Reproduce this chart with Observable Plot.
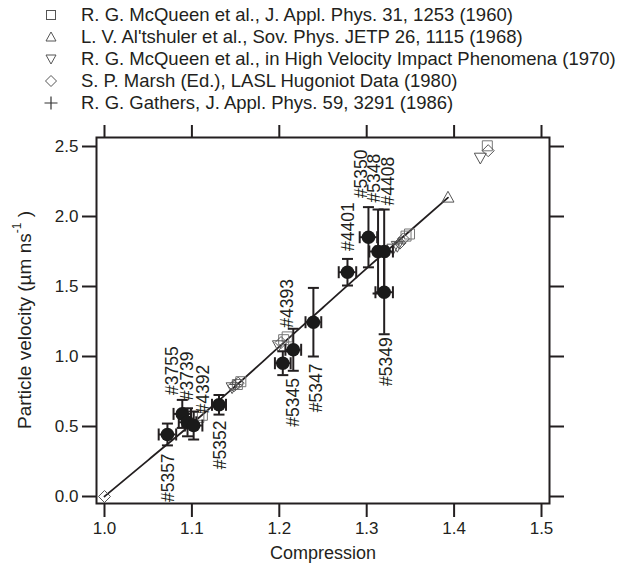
<!DOCTYPE html>
<html><head><meta charset="utf-8">
<script src="https://cdn.jsdelivr.net/npm/d3@7"></script>
<script src="https://cdn.jsdelivr.net/npm/@observablehq/plot@0.6"></script>
<style>
body{margin:0;background:#fff;font-family:"Liberation Sans",Arial,sans-serif;}
#wrap{width:621px;height:563px;position:relative;overflow:hidden;}
#legend{height:118px;position:relative;}
.row{position:absolute;left:0;height:22px;display:flex;align-items:center;font-size:18.5px;color:#231f20;white-space:nowrap;}
.row svg{margin-left:44px;margin-right:23px;flex:none;}
</style></head><body><div id="wrap"><div id="legend"></div><div id="chart"></div></div>
<script>
// ---- data ----
const shotIds = ["#5357","#3755","#3739","#4392","#5352","#5345","#4393","#5347","#4401","#5350","#5348","#4408","#5349"];
const shotCompression = [1.072,1.089,1.095,1.102,1.131,1.204,1.216,1.239,1.278,1.302,1.313,1.320,1.320];
const shotVelocity = [0.443,0.590,0.530,0.507,0.655,0.952,1.048,1.245,1.602,1.852,1.750,1.750,1.459];
const shotCompressionErr = [0.010,0.010,0.010,0.010,0.008,0.009,0.009,0.009,0.010,0.010,0.010,0.010,0.010];
const shotVelocityErr = [0.078,0.10,0.10,0.10,0.07,0.085,0.15,0.245,0.095,0.215,0.30,0.30,0.30];
const shotLabelSide = ["below","above","above","above","below","below","above","below","above","above","above","above","below"];

const fitCompression = [1.000,1.050,1.100,1.150,1.200,1.250,1.300,1.350,1.393];
const fitVelocity = [0.000,0.260,0.520,0.790,1.070,1.350,1.630,1.900,2.135];

const mcqueen1960C = [1.108,1.112,1.152,1.156,1.205,1.209,1.345,1.349,1.438];
const mcqueen1960U = [0.565,0.580,0.800,0.820,1.120,1.140,1.860,1.875,2.505];
const altshuler1968C = [1.393];
const altshuler1968U = [2.135];
const mcqueen1970C = [1.146,1.199,1.330,1.335,1.430];
const mcqueen1970U = [0.780,1.080,1.770,1.790,2.420];
const marsh1980C = [1.000,1.148,1.153,1.202,1.338,1.342,1.439];
const marsh1980U = [0.000,0.790,0.810,1.100,1.810,1.840,2.470];
const gathers1986C = [1.150,1.337];
const gathers1986U = [0.800,1.810];

const refNames = [
  "R. G. McQueen et al., J. Appl. Phys. 31, 1253 (1960)",
  "L. V. Al'tshuler et al., Sov. Phys. JETP 26, 1115 (1968)",
  "R. G. McQueen et al., in High Velocity Impact Phenomena (1970)",
  "S. P. Marsh (Ed.), LASL Hugoniot Data (1980)",
  "R. G. Gathers, J. Appl. Phys. 59, 3291 (1986)"
];
const xTicks = [1.0,1.1,1.2,1.3,1.4,1.5];
const yTicks = [0.0,0.5,1.0,1.5,2.0,2.5];

// ---- layout tweaks for the shot labels [dx, dy] ----
const labelNudge = {"#5357":[1,4],"#3755":[-10,-1],"#3739":[0,-4],"#4392":[10,6],"#5352":[1,2],
  "#5345":[11,-1],"#4393":[-6,3],"#5347":[3,3],"#4401":[1,-4],"#5350":[-7,-5],"#5348":[-4,-3],"#4408":[4,0],"#5349":[2,-1]};

// ---- symbols ----
const sym = fn => ({draw(ctx, size){ const r = Math.sqrt(size/Math.PI); fn(ctx, r); }});
const squareSym = sym((c,r)=>{c.moveTo(-r,-r);c.lineTo(r,-r);c.lineTo(r,r);c.lineTo(-r,r);c.closePath();});
const triUpSym = sym((c,r)=>{c.moveTo(0,-r*1.05);c.lineTo(r,r*0.75);c.lineTo(-r,r*0.75);c.closePath();});
const triDownSym = sym((c,r)=>{c.moveTo(0,r*1.05);c.lineTo(r,-r*0.75);c.lineTo(-r,-r*0.75);c.closePath();});
const diamondSym = sym((c,r)=>{c.moveTo(0,-r);c.lineTo(r,0);c.lineTo(0,r);c.lineTo(-r,0);c.closePath();});
const plusSym = sym((c,r)=>{c.moveTo(-r,0);c.lineTo(r,0);c.moveTo(0,-r);c.lineTo(0,r);});
const hcap = sym((c,r)=>{c.moveTo(-r,0);c.lineTo(r,0);});
const vcap = sym((c,r)=>{c.moveTo(0,-r);c.lineTo(0,r);});

const refs = [
  {c:mcqueen1960C,u:mcqueen1960U,symbol:squareSym,r:5,stroke:"#777"},
  {c:altshuler1968C,u:altshuler1968U,symbol:triUpSym,r:6,stroke:"#555"},
  {c:mcqueen1970C,u:mcqueen1970U,symbol:triDownSym,r:6,stroke:"#555"},
  {c:marsh1980C,u:marsh1980U,symbol:diamondSym,r:6,stroke:"#555"},
  {c:gathers1986C,u:gathers1986U,symbol:plusSym,r:6,stroke:"#555"}
];

// ---- legend ----
const legendShapes = [
  '<rect x="2.5" y="2.5" width="9" height="9" fill="none" stroke="#555" stroke-width="1"/>',
  '<path d="M7 2 L12 11 L2 11 Z" fill="none" stroke="#555" stroke-width="1"/>',
  '<path d="M7 12 L12 3 L2 3 Z" fill="none" stroke="#555" stroke-width="1"/>',
  '<path d="M7 1.5 L12.5 7 L7 12.5 L1.5 7 Z" fill="none" stroke="#555" stroke-width="1"/>',
  '<path d="M0.5 7 H13.5 M7 0.5 V13.5" fill="none" stroke="#333" stroke-width="1.2"/>'
];
const legend = document.getElementById("legend");
refNames.forEach((name,i)=>{
  const row = document.createElement("div");
  row.className = "row";
  row.style.top = (4 + 22*i) + "px";
  row.innerHTML = `<svg width="14" height="14">${legendShapes[i]}</svg><span>${name}</span>`;
  legend.appendChild(row);
});

// ---- chart ----
const shots = shotIds.map((id,i)=>({id,c:shotCompression[i],u:shotVelocity[i],ce:shotCompressionErr[i],ue:shotVelocityErr[i],side:shotLabelSide[i]}));
const fit = fitCompression.map((c,i)=>({c,u:fitVelocity[i]}));
const ink = "#231f20";

const refMarks = refs.map(R => Plot.dot(R.c.map((c,i)=>({c,u:R.u[i]})), {x:"c",y:"u",symbol:R.symbol,r:R.r,stroke:R.stroke,strokeWidth:1,fill:"none"}));

const labelMarks = shots.map(s => {
  const above = s.side === "above";
  const [ndx, ndy] = labelNudge[s.id] || [0,0];
  return Plot.text([s], {
    x:"c", y: d => above ? d.u + d.ue : d.u - d.ue, text:"id", rotate:-90,
    textAnchor: above ? "start" : "end", lineAnchor:"middle",
    dx: ndx, dy: (above ? -4 : 4) + ndy, fontSize:17.5, fill:ink
  });
});

const chart = Plot.plot({
  width:621, height:445,
  marginTop:19, marginBottom:60, marginLeft:96, marginRight:72,
  style:{fontFamily:'"Liberation Sans", Arial, sans-serif', fontSize:"17px", color:ink, background:"#fff"},
  x:{domain:[0.99085,1.50915]},
  y:{domain:[-0.05,2.5643]},
  marks:[
    Plot.line(fit, {x:"c",y:"u",stroke:ink,strokeWidth:1.8,curve:"monotone-x"}),
    ...refMarks,
    Plot.ruleX(shots, {x:"c", y1:d=>d.u-d.ue, y2:d=>d.u+d.ue, stroke:ink, strokeWidth:2}),
    Plot.ruleY(shots, {y:"u", x1:d=>d.c-d.ce, x2:d=>d.c+d.ce, stroke:ink, strokeWidth:2}),
    Plot.dot(shots, {x:"c", y:d=>d.u+d.ue, symbol:hcap, r:5.5, stroke:ink, strokeWidth:2}),
    Plot.dot(shots, {x:"c", y:d=>d.u-d.ue, symbol:hcap, r:5.5, stroke:ink, strokeWidth:2}),
    Plot.dot(shots, {x:d=>d.c-d.ce, y:"u", symbol:vcap, r:6, stroke:ink, strokeWidth:2}),
    Plot.dot(shots, {x:d=>d.c+d.ce, y:"u", symbol:vcap, r:6, stroke:ink, strokeWidth:2}),
    Plot.dot(shots, {x:"c", y:"u", r:6.8, fill:"#1a1a1a", stroke:"none"}),
    ...labelMarks,
    Plot.axisX({anchor:"bottom", ticks:xTicks, tickSize:14, tickPadding:4, tickFormat:d3.format(".1f"), label:null, stroke:ink, strokeWidth:2}),
    Plot.axisX({anchor:"top", ticks:xTicks, tickSize:13, tickFormat:()=>"", label:null, stroke:ink, strokeWidth:2}),
    Plot.axisY({anchor:"left", ticks:yTicks, tickSize:14, tickPadding:4, tickFormat:d3.format(".1f"), label:null, stroke:ink, strokeWidth:2}),
    Plot.axisY({anchor:"right", ticks:yTicks, tickSize:14, tickFormat:()=>"", label:null, stroke:ink, strokeWidth:2}),
    Plot.frame({stroke:ink, strokeWidth:2}),
    Plot.text(["Compression"], {frameAnchor:"bottom", dy:50, lineAnchor:"middle", fontSize:18, fill:ink})
  ]
});
document.getElementById("chart").appendChild(chart);

// y-axis title with superscript
const svg = d3.select(chart);
const yt = svg.append("text")
  .attr("transform", `translate(26,${(19 + (445-60))/2}) rotate(-90)`)
  .attr("text-anchor","middle").attr("dominant-baseline","middle")
  .attr("font-size",19).attr("fill",ink);
yt.append("tspan").text("Particle velocity (\u00b5m ns");
yt.append("tspan").attr("dy",-8).attr("font-size",12).text("-1");
yt.append("tspan").attr("dy",8).text(" )");
</script></body></html>
